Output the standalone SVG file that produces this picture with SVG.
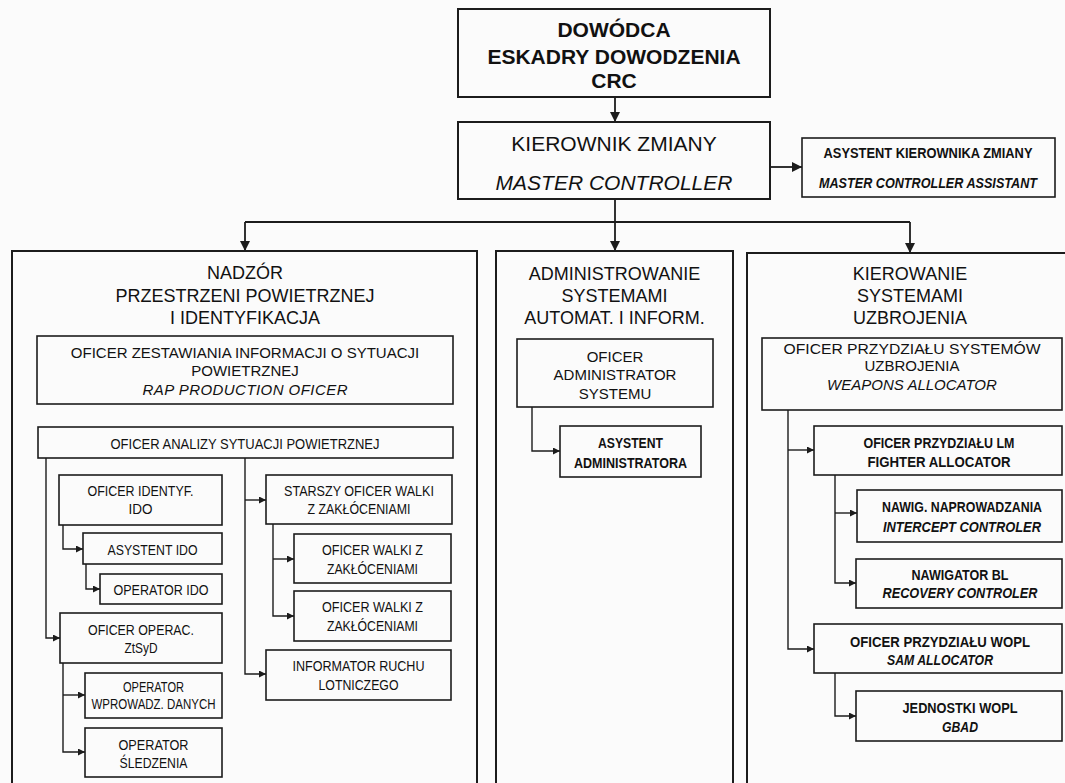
<svg xmlns="http://www.w3.org/2000/svg" width="1065" height="783" viewBox="0 0 1065 783">
  <style>
    text { font-family: "Liberation Sans", Arial, sans-serif; fill: #111111; text-anchor: middle; }
    .box { fill: none; stroke: #1c1c1c; stroke-width: 1.6; }
    .main { stroke-width: 2; }
    .link { fill: none; stroke: #1c1c1c; stroke-width: 1.4; }
    .trunk { stroke-width: 1.8; }
    .h1 { font-size: 21px; font-weight: bold; }
    .h2 { font-size: 21px; }
    .hd { font-size: 18px; }
    .t15 { font-size: 15px; }
    .t14 { font-size: 15px; }
    .b13 { font-size: 14px; font-weight: bold; }
    .it { font-style: italic; }
  </style>
  <defs>
    <marker id="big" viewBox="0 0 10 10" refX="10" refY="5" markerWidth="12" markerHeight="10" markerUnits="userSpaceOnUse" orient="auto">
      <path d="M0,0 L10,5 L0,10 z" fill="#1c1c1c"/>
    </marker>
    <marker id="small" viewBox="0 0 10 10" refX="10" refY="5" markerWidth="8" markerHeight="7" markerUnits="userSpaceOnUse" orient="auto">
      <path d="M0,0 L10,5 L0,10 z" fill="#1c1c1c"/>
    </marker>
  </defs>

  <rect x="0" y="0" width="1065" height="783" fill="#fbfbfb"/>

  <!-- connectors -->
  <g id="connectors">
    <path class="link trunk" d="M615,97 V122" marker-end="url(#big)"/>
    <path class="link trunk" d="M770,167 H802" marker-end="url(#big)"/>
    <path class="link trunk" d="M615,199 V251" marker-end="url(#big)"/>
    <path class="link trunk" d="M245,222 H910"/>
    <path class="link trunk" d="M245,222 V251" marker-end="url(#big)"/>
    <path class="link trunk" d="M910,222 V253" marker-end="url(#big)"/>

    <path class="link" d="M46,458 V638 H60" marker-end="url(#small)"/>
    <path class="link" d="M245,458 V674 H266" marker-end="url(#small)"/>
    <path class="link" d="M245,500 H266" marker-end="url(#small)"/>
    <path class="link" d="M63,525 V549 H83" marker-end="url(#small)"/>
    <path class="link" d="M86,564 V589 H100" marker-end="url(#small)"/>
    <path class="link" d="M63,663 V752 H85" marker-end="url(#small)"/>
    <path class="link" d="M63,695 H85" marker-end="url(#small)"/>
    <path class="link" d="M273,524 V616 H294" marker-end="url(#small)"/>
    <path class="link" d="M273,559 H294" marker-end="url(#small)"/>

    <path class="link" d="M532,407 V451 H560" marker-end="url(#small)"/>

    <path class="link" d="M788,410 V649 H814" marker-end="url(#small)"/>
    <path class="link" d="M788,450 H814" marker-end="url(#small)"/>
    <path class="link" d="M835,475 V583 H856" marker-end="url(#small)"/>
    <path class="link" d="M835,513 H857" marker-end="url(#small)"/>
    <path class="link" d="M835,673 V716 H856" marker-end="url(#small)"/>
  </g>

  <!-- command chain -->
  <g id="commander">
    <rect class="box main" x="458" y="9" width="312" height="88"/>
    <text class="h1" x="614" y="37">DOWÓDCA</text>
    <text class="h1" x="614" y="64">ESKADRY DOWODZENIA</text>
    <text class="h1" x="614" y="88">CRC</text>
  </g>

  <g id="master-controller">
    <rect class="box main" x="458" y="122" width="312" height="77"/>
    <text class="h2" x="614" y="151">KIEROWNIK ZMIANY</text>
    <text class="h2 it" x="614" y="190">MASTER CONTROLLER</text>
  </g>

  <g id="mc-assistant">
    <rect class="box" x="802" y="138" width="253" height="59"/>
    <text class="b13" x="928" y="158" textLength="209" lengthAdjust="spacingAndGlyphs">ASYSTENT KIEROWNIKA ZMIANY</text>
    <text class="b13 it" x="928" y="188" textLength="218" lengthAdjust="spacingAndGlyphs">MASTER CONTROLLER ASSISTANT</text>
  </g>

  <!-- section: airspace surveillance -->
  <g id="surveillance">
    <rect class="box main" x="12" y="251" width="465" height="545"/>
    <text class="hd" x="245" y="278.5">NADZÓR</text>
    <text class="hd" x="245" y="301.5">PRZESTRZENI POWIETRZNEJ</text>
    <text class="hd" x="245" y="323.5">I IDENTYFIKACJA</text>
  </g>

  <g id="rap-officer">
    <rect class="box" x="37" y="336" width="416" height="68"/>
    <text class="t15" x="245" y="357.5">OFICER ZESTAWIANIA INFORMACJI O SYTUACJI</text>
    <text class="t15" x="245" y="375.5">POWIETRZNEJ</text>
    <text class="t15 it" x="245" y="394.5" textLength="205" lengthAdjust="spacing">RAP PRODUCTION OFICER</text>
  </g>

  <g id="air-picture-officer">
    <rect class="box" x="38" y="427" width="415" height="31"/>
    <text class="t14" x="245" y="448.5" textLength="269" lengthAdjust="spacingAndGlyphs">OFICER ANALIZY SYTUACJI POWIETRZNEJ</text>
  </g>

  <g id="ido-officer">
    <rect class="box" x="59" y="475" width="163" height="50"/>
    <text class="t14" x="140.5" y="496" textLength="106" lengthAdjust="spacingAndGlyphs">OFICER IDENTYF.</text>
    <text class="t14" x="140.5" y="514" textLength="24" lengthAdjust="spacingAndGlyphs">IDO</text>
  </g>

  <g id="ido-assistant">
    <rect class="box" x="83" y="533" width="139" height="31"/>
    <text class="t14" x="152.5" y="554.5" textLength="90" lengthAdjust="spacingAndGlyphs">ASYSTENT IDO</text>
  </g>

  <g id="ido-operator">
    <rect class="box" x="100" y="574" width="122" height="30"/>
    <text class="t14" x="161" y="594.5" textLength="95" lengthAdjust="spacingAndGlyphs">OPERATOR IDO</text>
  </g>

  <g id="ops-officer">
    <rect class="box" x="60" y="613" width="162" height="50"/>
    <text class="t14" x="141" y="635" textLength="106" lengthAdjust="spacingAndGlyphs">OFICER OPERAC.</text>
    <text class="t14" x="141" y="653" textLength="33" lengthAdjust="spacingAndGlyphs">ZtSyD</text>
  </g>

  <g id="data-entry-operator">
    <rect class="box" x="85" y="673" width="137" height="45"/>
    <text class="t14" x="153.5" y="692" textLength="61" lengthAdjust="spacingAndGlyphs">OPERATOR</text>
    <text class="t14" x="153.5" y="708.5" textLength="124" lengthAdjust="spacingAndGlyphs">WPROWADZ. DANYCH</text>
  </g>

  <g id="tracking-operator">
    <rect class="box" x="85" y="728" width="137" height="49"/>
    <text class="t14" x="153.5" y="749.5" textLength="70" lengthAdjust="spacingAndGlyphs">OPERATOR</text>
    <text class="t14" x="153.5" y="767.5" textLength="68" lengthAdjust="spacingAndGlyphs">ŚLEDZENIA</text>
  </g>

  <g id="senior-ew-officer">
    <rect class="box" x="266" y="475" width="186" height="49"/>
    <text class="t14" x="359" y="496" textLength="150" lengthAdjust="spacingAndGlyphs">STARSZY OFICER WALKI</text>
    <text class="t14" x="359" y="514" textLength="103" lengthAdjust="spacingAndGlyphs">Z ZAKŁÓCENIAMI</text>
  </g>

  <g id="ew-officer-1">
    <rect class="box" x="294" y="534" width="157" height="49"/>
    <text class="t14" x="372.5" y="555" textLength="101" lengthAdjust="spacingAndGlyphs">OFICER WALKI Z</text>
    <text class="t14" x="372.5" y="574" textLength="91" lengthAdjust="spacingAndGlyphs">ZAKŁÓCENIAMI</text>
  </g>

  <g id="ew-officer-2">
    <rect class="box" x="294" y="591" width="157" height="50"/>
    <text class="t14" x="372.5" y="612" textLength="101" lengthAdjust="spacingAndGlyphs">OFICER WALKI Z</text>
    <text class="t14" x="372.5" y="631" textLength="91" lengthAdjust="spacingAndGlyphs">ZAKŁÓCENIAMI</text>
  </g>

  <g id="air-traffic-informer">
    <rect class="box" x="266" y="650" width="185" height="50"/>
    <text class="t14" x="358.5" y="671" textLength="132" lengthAdjust="spacingAndGlyphs">INFORMATOR RUCHU</text>
    <text class="t14" x="358.5" y="690" textLength="80" lengthAdjust="spacingAndGlyphs">LOTNICZEGO</text>
  </g>

  <!-- section: system administration -->
  <g id="administration">
    <rect class="box main" x="496" y="251" width="237" height="545"/>
    <text class="hd" x="614.5" y="279.5">ADMINISTROWANIE</text>
    <text class="hd" x="614.5" y="301.5">SYSTEMAMI</text>
    <text class="hd" x="614.5" y="323.5">AUTOMAT. I INFORM.</text>
  </g>

  <g id="sysadmin-officer">
    <rect class="box" x="517" y="339" width="196" height="68"/>
    <text class="t15" x="615" y="361.5">OFICER</text>
    <text class="t15" x="615" y="379.5">ADMINISTRATOR</text>
    <text class="t15" x="615" y="398.5">SYSTEMU</text>
  </g>

  <g id="sysadmin-assistant">
    <rect class="box" x="560" y="426" width="141" height="51"/>
    <text class="b13" x="630.5" y="448" textLength="65" lengthAdjust="spacingAndGlyphs">ASYSTENT</text>
    <text class="b13" x="630.5" y="468" textLength="113" lengthAdjust="spacingAndGlyphs">ADMINISTRATORA</text>
  </g>

  <!-- section: weapons control -->
  <g id="weapons-control">
    <rect class="box main" x="747" y="253" width="330" height="545"/>
    <text class="hd" x="910" y="279.5">KIEROWANIE</text>
    <text class="hd" x="910" y="301.5">SYSTEMAMI</text>
    <text class="hd" x="910" y="323.5">UZBROJENIA</text>
  </g>

  <g id="weapons-allocator">
    <rect class="box" x="762" y="338" width="300" height="72"/>
    <text class="t15" x="912" y="353.5" textLength="257" lengthAdjust="spacingAndGlyphs">OFICER  PRZYDZIAŁU SYSTEMÓW</text>
    <text class="t15" x="912" y="370.5">UZBROJENIA</text>
    <text class="t15 it" x="912" y="389.5">WEAPONS ALLOCATOR</text>
  </g>

  <g id="fighter-allocator">
    <rect class="box" x="814" y="426" width="248" height="49"/>
    <text class="b13" x="939" y="448" textLength="151" lengthAdjust="spacingAndGlyphs">OFICER PRZYDZIAŁU LM</text>
    <text class="b13" x="939" y="467" textLength="143" lengthAdjust="spacingAndGlyphs">FIGHTER ALLOCATOR</text>
  </g>

  <g id="intercept-controller">
    <rect class="box" x="857" y="490" width="205" height="52"/>
    <text class="b13" x="962" y="512" textLength="160" lengthAdjust="spacingAndGlyphs">NAWIG. NAPROWADZANIA</text>
    <text class="b13 it" x="962" y="532" textLength="158" lengthAdjust="spacingAndGlyphs">INTERCEPT CONTROLER</text>
  </g>

  <g id="recovery-controller">
    <rect class="box" x="856" y="559" width="206" height="49"/>
    <text class="b13" x="960" y="580" textLength="97" lengthAdjust="spacingAndGlyphs">NAWIGATOR BL</text>
    <text class="b13 it" x="960" y="598" textLength="155" lengthAdjust="spacingAndGlyphs">RECOVERY CONTROLER</text>
  </g>

  <g id="sam-allocator">
    <rect class="box" x="814" y="624" width="248" height="49"/>
    <text class="b13" x="940" y="647" textLength="180" lengthAdjust="spacingAndGlyphs">OFICER  PRZYDZIAŁU  WOPL</text>
    <text class="b13 it" x="940" y="665" textLength="106" lengthAdjust="spacingAndGlyphs">SAM ALLOCATOR</text>
  </g>

  <g id="gbad-units">
    <rect class="box" x="856" y="691" width="206" height="50"/>
    <text class="b13" x="960" y="713" textLength="115" lengthAdjust="spacingAndGlyphs">JEDNOSTKI  WOPL</text>
    <text class="b13 it" x="960" y="732" textLength="36" lengthAdjust="spacingAndGlyphs">GBAD</text>
  </g>
</svg>
